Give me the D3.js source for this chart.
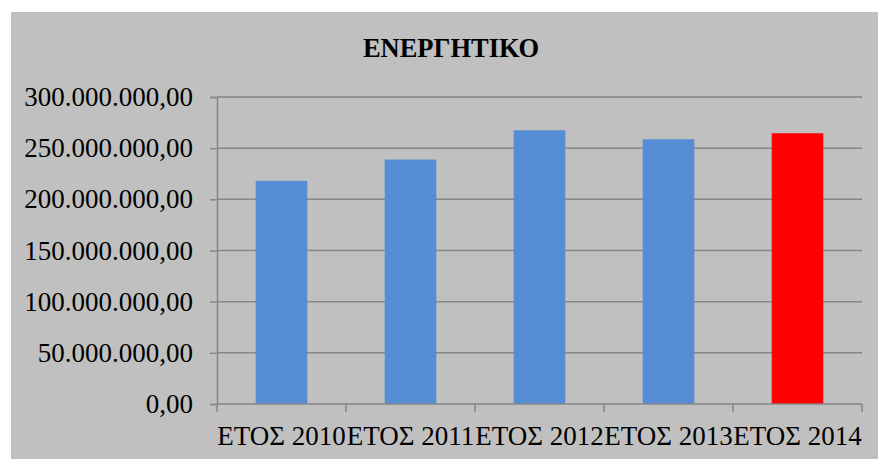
<!DOCTYPE html>
<html>
<head>
<meta charset="utf-8">
<script src="https://cdn.jsdelivr.net/npm/d3@7"></script>
<style>
  html, body { margin: 0; padding: 0; background: #ffffff; }
  svg { display: block; }
  text { font-family: "Liberation Serif", "Times New Roman", serif; fill: #000; }
</style>
</head>
<body>
<svg id="chart" width="878" height="459"></svg>
<script>
// Chart data
const title = "ΕΝΕΡΓΗΤΙΚΟ";
const categories = ["ΕΤΟΣ 2010", "ΕΤΟΣ 2011", "ΕΤΟΣ 2012", "ΕΤΟΣ 2013", "ΕΤΟΣ 2014"];
const values = [218000000, 238900000, 267500000, 258700000, 264600000];
const barColors = ["#558ed5", "#558ed5", "#558ed5", "#558ed5", "#ff0000"];
const yTicks = [0, 50000000, 100000000, 150000000, 200000000, 250000000, 300000000];

const svg = d3.select("#chart");
const W = 878, H = 459;

// Chart area background
svg.append("rect")
  .attr("x", 11).attr("y", 12)
  .attr("width", W - 11).attr("height", H - 12)
  .attr("fill", "#c0c0c0");

const plot = { left: 217, right: 862, top: 97, bottom: 404 };

const x = d3.scaleBand()
  .domain(categories)
  .range([plot.left, plot.right])
  .paddingInner(0.6)
  .paddingOuter(0.3);

const y = d3.scaleLinear()
  .domain([0, 300000000])
  .range([plot.bottom, plot.top]);

const greek = d3.formatLocale({ decimal: ",", thousands: ".", grouping: [3], currency: ["", " €"] });
const fmt = greek.format(",.2f");

const axisColor = "#868686";
const labelSize = "27px";

// Horizontal gridlines
svg.append("g")
  .selectAll("line")
  .data(yTicks.filter(d => d > 0))
  .join("line")
  .attr("x1", plot.left).attr("x2", plot.right)
  .attr("y1", d => y(d)).attr("y2", d => y(d))
  .attr("stroke", axisColor)
  .attr("stroke-width", 1.5);

// Bars
svg.append("g")
  .selectAll("rect")
  .data(categories)
  .join("rect")
  .attr("x", d => x(d))
  .attr("width", x.bandwidth())
  .attr("y", (d, i) => y(values[i]))
  .attr("height", (d, i) => y(0) - y(values[i]))
  .attr("fill", (d, i) => barColors[i]);

// Y axis
const yAxis = svg.append("g")
  .attr("transform", `translate(${plot.left},0)`)
  .call(d3.axisLeft(y).tickValues(yTicks).tickFormat(fmt).tickSize(7).tickPadding(17));
yAxis.select(".domain").attr("stroke", axisColor).attr("stroke-width", 1.5);
yAxis.selectAll(".tick line").attr("stroke", axisColor).attr("stroke-width", 1.5);
yAxis.selectAll(".tick text")
  .style("font-family", "'Liberation Serif', 'Times New Roman', serif")
  .style("font-size", labelSize)
  .attr("fill", "#000");

// X axis: category boundary ticks, labels centred in each band
const xg = svg.append("g");
xg.append("line")
  .attr("x1", plot.left).attr("x2", plot.right)
  .attr("y1", plot.bottom).attr("y2", plot.bottom)
  .attr("stroke", axisColor).attr("stroke-width", 1.5);
const step = x.step();
const boundaries = d3.range(categories.length + 1).map(i => plot.left + i * step);
xg.selectAll("line.tk")
  .data(boundaries)
  .join("line")
  .attr("class", "tk")
  .attr("x1", d => d).attr("x2", d => d)
  .attr("y1", plot.bottom).attr("y2", plot.bottom + 8)
  .attr("stroke", axisColor).attr("stroke-width", 1.5);
xg.selectAll("text")
  .data(categories)
  .join("text")
  .attr("x", d => x(d) + x.bandwidth() / 2)
  .attr("y", 445)
  .attr("text-anchor", "middle")
  .style("font-size", labelSize)
  .text(d => d);

// Title
svg.append("text")
  .attr("x", 451)
  .attr("y", 57)
  .attr("text-anchor", "middle")
  .style("font-size", "26.5px")
  .style("font-weight", "bold")
  .text(title);
</script>
</body>
</html>
